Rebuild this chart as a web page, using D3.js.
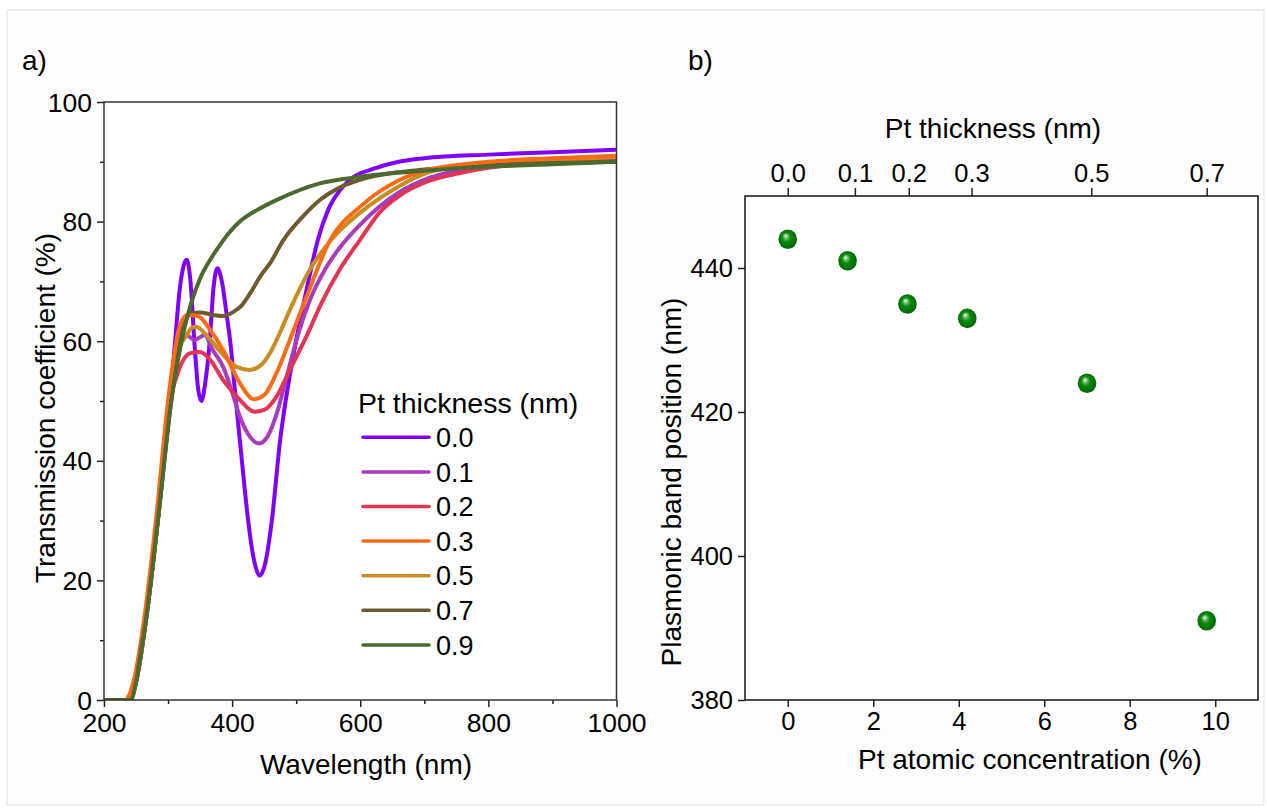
<!DOCTYPE html>
<html lang="en">
<head>
<meta charset="UTF-8">
<title>Transmission spectra and plasmonic band</title>
<style>
    html, body { margin: 0; padding: 0; background: #fff; }
    svg { display: block; font-family: "Liberation Sans", Arial, sans-serif; }
    .tick text { fill: #000; }
</style>
</head>
<body>
<div id="wrapper"></div>
<script src="https://d3js.org/d3.v7.min.js"></script>
<script>
// ---- data ----
// panel a): transmission (%) vs wavelength (nm), one array per Pt thickness
const thicknessNames = ['0.0', '0.1', '0.2', '0.3', '0.5', '0.7', '0.9'];
const seriesColors = ['#8000ff', '#a83cbc', '#e33553', '#ff6a14', '#c98c20', '#6e5a2c', '#4b6a30'];

const t00 = [[200,0],[238,0],[250,3],[265,13],[284,30],[303,50],[311,60],[318,68.5],[324,72.5],[329,73.6],[335,70],[341,60],[347,52],[352,50],[358,53],[365,60],[371,69],[377,72.2],[384,70],[392,64],[397,60],[405,51],[412,43.5],[419,36],[425,30],[433,24],[443,20.8],[452,23],[462,30],[475,43.5],[488,53],[500,60.2],[517,69],[534,77],[550,82],[570,85.5],[590,87.5],[620,88.8],[660,90],[700,90.6],[800,91.2],[900,91.6],[1000,92]];
const t01 = [[200,0],[238,0],[250,3],[265,13],[284,30],[303,50],[312,57],[320,60.5],[329,61],[341,60.2],[357,61],[370,58.5],[386,55.7],[400,51.5],[412,47.4],[428,44],[442,42.9],[455,44],[470,48],[485,54],[500,60],[520,66.5],[545,72],[567,75.5],[600,79.5],[630,82.5],[662,85],[700,87],[750,88.5],[800,89.3],[900,90],[1000,90.5]];
const t02 = [[200,0],[240,0],[250,3],[265,13],[284,30],[303,50],[313,54],[322,56.5],[335,58],[350,58.2],[365,57],[386,53.5],[412,50.2],[435,48.2],[450,48.5],[469,50.7],[490,55.2],[516,60.8],[540,66.5],[568,72],[600,77],[630,81.5],[662,84.4],[700,86.5],[750,88],[800,89],[850,89.5],[900,89.8],[1000,90]];
const t03 = [[200,0],[232,0],[240,1],[248,4],[262,13],[281,30],[300,50],[310,58],[318,62.5],[325,64],[331,64.4],[342,64.3],[350,64],[365,62],[386,58.5],[412,53],[434,50.3],[450,51],[469,54.6],[490,60.2],[516,67.4],[553,76.9],[600,82.5],[662,87],[700,88.5],[800,90],[900,90.6],[1000,91]];
const t05 = [[200,0],[238,0],[250,3],[265,13],[284,30],[303,50],[315,58],[329,61],[337,62.2],[344,62.4],[360,61],[386,57.7],[407,55.7],[427,55.2],[445,56],[459,58],[475,61.5],[490,65.2],[521,71.9],[555,77],[600,81.5],[662,86],[700,88],[800,89.8],[900,90.3],[1000,90.8]];
const t07 = [[200,0],[240,0],[250,3],[265,13],[284,30],[305,50],[318,60],[326,64],[339,64.7],[350,64.8],[370,64.4],[386,64.2],[402,64.9],[415,66],[428,68],[445,71],[459,73],[480,76.9],[510,80.8],[537,83.6],[570,85.8],[600,87],[700,88.7],[800,89.4],[900,89.8],[1000,90]];
const t09 = [[200,0],[242,0],[250,3],[256,7],[265,13],[284,30],[305,50],[321,60],[335,66],[350,70.5],[368,74],[385,76.7],[412,80],[440,82],[469,83.6],[537,86.4],[600,87.5],[700,88.5],[800,89.2],[900,89.6],[1000,90]];
const spectra = [t00, t01, t02, t03, t05, t07, t09];
const drawOrder = [0, 1, 2, 4, 5, 3, 6];

// panel b): plasmonic band position vs Pt atomic concentration
const ptConcentration = [0, 1.4, 2.8, 4.2, 7.0, 9.8];
const bandPosition = [444, 441, 435, 433, 424, 391];
// top axis: Pt thickness labels and where they sit on the concentration axis
const topThicknessLabels = ['0.0', '0.1', '0.2', '0.3', '0.5', '0.7'];
const topThicknessAt = [0, 1.57, 2.83, 4.3, 7.1, 9.8];

// ---- canvas ----
const width = 1267, height = 810;
const svg = d3.select('#wrapper').append('svg')
    .attr('width', width)
    .attr('height', height);

svg.append('rect')
    .attr('x', 7).attr('y', 10)
    .attr('width', 1257).attr('height', 795)
    .attr('fill', '#fdfdfd')
    .attr('stroke', '#e2e2e2');

// ========== panel a ==========
const xA = d3.scaleLinear().domain([200, 1000]).range([104, 616.5]);
const yA = d3.scaleLinear().domain([0, 100]).range([700, 102]);

svg.append('rect')
    .attr('x', xA(200)).attr('y', yA(100))
    .attr('width', xA(1000) - xA(200)).attr('height', yA(0) - yA(100))
    .attr('fill', '#fff');

// minor ticks
const gA = svg.append('g');
gA.append('g')
    .attr('transform', `translate(0,${yA(0)})`)
    .call(d3.axisBottom(xA).tickValues([300, 500, 700, 900]).tickSize(4).tickFormat(''))
    .call(g => g.select('.domain').remove());
gA.append('g')
    .attr('transform', `translate(${xA(200)},0)`)
    .call(d3.axisLeft(yA).tickValues([10, 30, 50, 70, 90]).tickSize(4).tickFormat(''))
    .call(g => g.select('.domain').remove());

// major ticks
const xAxisA = gA.append('g')
    .attr('transform', `translate(0,${yA(0)})`)
    .call(d3.axisBottom(xA).tickValues([200, 400, 600, 800, 1000])
        .tickFormat(d3.format('d')).tickSize(7).tickPadding(6));
const yAxisA = gA.append('g')
    .attr('transform', `translate(${xA(200)},0)`)
    .call(d3.axisLeft(yA).tickValues([0, 20, 40, 60, 80, 100]).tickSize(7).tickPadding(5));
gA.selectAll('.domain').remove();
gA.selectAll('.tick line').attr('stroke', '#222').attr('stroke-width', 1.5);
xAxisA.selectAll('.tick text').style('font-size', '26.5px');
yAxisA.selectAll('.tick text').style('font-size', '26.5px').attr('dy', '0.34em');

// spectra
const lineA = d3.line()
    .x(d => xA(d[0]))
    .y(d => yA(d[1]))
    .curve(d3.curveMonotoneX);

svg.append('clipPath').attr('id', 'clipA')
    .append('rect')
    .attr('x', xA(200)).attr('y', yA(100) - 2)
    .attr('width', xA(1000) - xA(200)).attr('height', yA(0) - yA(100) + 2);

svg.append('g')
    .attr('clip-path', 'url(#clipA)')
    .selectAll('path')
    .data(drawOrder)
    .join('path')
    .attr('d', i => lineA(spectra[i]))
    .attr('fill', 'none')
    .attr('stroke', i => seriesColors[i])
    .attr('stroke-width', 4)
    .attr('stroke-linejoin', 'round');

// frame
svg.append('rect')
    .attr('x', xA(200)).attr('y', yA(100))
    .attr('width', xA(1000) - xA(200)).attr('height', yA(0) - yA(100))
    .attr('fill', 'none')
    .attr('stroke', '#333')
    .attr('stroke-width', 1.5);

// legend
const legend = svg.append('g').attr('transform', 'translate(358,0)');
legend.append('text')
    .attr('x', 0).attr('y', 413)
    .style('font-size', '28.5px')
    .text('Pt thickness (nm)');
const legendRow = legend.selectAll('.row')
    .data(thicknessNames)
    .join('g')
    .attr('class', 'row')
    .attr('transform', (d, i) => `translate(0,${437.3 + i * 34.6})`);
legendRow.append('line')
    .attr('x1', 5).attr('x2', 71)
    .attr('stroke', (d, i) => seriesColors[i])
    .attr('stroke-width', 3.5)
    .attr('stroke-linecap', 'round');
legendRow.append('text')
    .attr('x', 78).attr('y', 0).attr('dy', '0.36em')
    .style('font-size', '27px')
    .text(d => d);

// titles
svg.append('text')
    .attr('x', 366).attr('y', 774)
    .attr('text-anchor', 'middle')
    .style('font-size', '28px')
    .text('Wavelength (nm)');
svg.append('text')
    .attr('transform', 'translate(55,408) rotate(-90)')
    .attr('text-anchor', 'middle')
    .style('font-size', '28px')
    .text('Transmission coefficient (%)');
svg.append('text')
    .attr('x', 22).attr('y', 70)
    .style('font-size', '28px')
    .text('a)');

// ========== panel b ==========
const xB = d3.scaleLinear().domain([-1, 11]).range([745, 1258]);
const yB = d3.scaleLinear().domain([380, 450]).range([700, 196]);

svg.append('rect')
    .attr('x', xB(-1)).attr('y', yB(450))
    .attr('width', xB(11) - xB(-1)).attr('height', yB(380) - yB(450))
    .attr('fill', '#fff');

const gB = svg.append('g');
gB.append('g')
    .attr('transform', `translate(0,${yB(380)})`)
    .call(d3.axisBottom(xB).tickValues([0, 2, 4, 6, 8, 10]).tickSize(7).tickPadding(5));
const yAxisB = gB.append('g')
    .attr('transform', `translate(${xB(-1)},0)`)
    .call(d3.axisLeft(yB).tickValues([380, 400, 420, 440]).tickSize(7).tickPadding(5));
gB.append('g')
    .attr('transform', `translate(0,${yB(450)})`)
    .call(d3.axisTop(xB).tickValues(topThicknessAt)
        .tickFormat((d, i) => topThicknessLabels[i])
        .tickSize(8).tickPadding(6));
gB.selectAll('.domain').remove();
gB.selectAll('.tick line').attr('stroke', '#222').attr('stroke-width', 1.5);
gB.selectAll('.tick text').style('font-size', '25.5px');
yAxisB.selectAll('.tick text').attr('dy', '0.34em');

// ball markers
const defs = svg.append('defs');
const ball = defs.append('radialGradient')
    .attr('id', 'ball')
    .attr('cx', '50%').attr('cy', '50%').attr('r', '55%')
    .attr('fx', '38%').attr('fy', '32%');
ball.append('stop').attr('offset', '0%').attr('stop-color', '#ffffff');
ball.append('stop').attr('offset', '15%').attr('stop-color', '#8fcf8f');
ball.append('stop').attr('offset', '42%').attr('stop-color', '#0b8c0b');
ball.append('stop').attr('offset', '100%').attr('stop-color', '#006200');

svg.append('g')
    .selectAll('ellipse')
    .data(ptConcentration)
    .join('ellipse')
    .attr('cx', d => xB(d))
    .attr('cy', (d, i) => yB(bandPosition[i]))
    .attr('rx', 9.3)
    .attr('ry', 9.8)
    .attr('fill', 'url(#ball)');

svg.append('rect')
    .attr('x', xB(-1)).attr('y', yB(450))
    .attr('width', xB(11) - xB(-1)).attr('height', yB(380) - yB(450))
    .attr('fill', 'none')
    .attr('stroke', '#111')
    .attr('stroke-width', 1.5);

svg.append('text')
    .attr('x', 1030).attr('y', 769)
    .attr('text-anchor', 'middle')
    .style('font-size', '28px')
    .text('Pt atomic concentration (%)');
svg.append('text')
    .attr('x', 993).attr('y', 138)
    .attr('text-anchor', 'middle')
    .style('font-size', '28px')
    .text('Pt thickness (nm)');
svg.append('text')
    .attr('transform', 'translate(681,482) rotate(-90)')
    .attr('text-anchor', 'middle')
    .style('font-size', '28px')
    .text('Plasmonic band position (nm)');
svg.append('text')
    .attr('x', 688).attr('y', 70)
    .style('font-size', '28px')
    .text('b)');
</script>
</body>
</html>
